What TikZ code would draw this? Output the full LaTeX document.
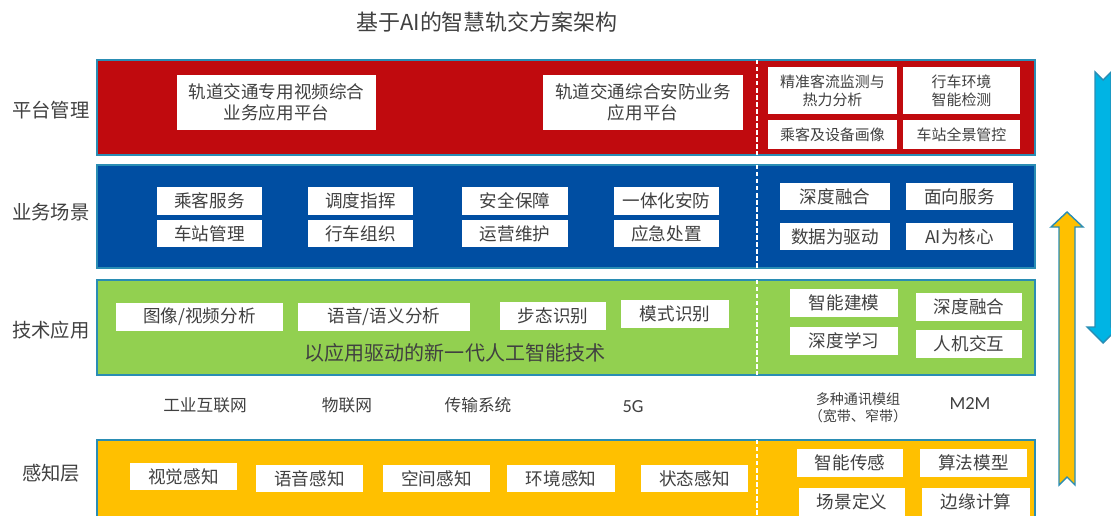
\documentclass[tikz,border=0pt]{standalone}
\usepackage{fontspec}
\newfontfamily\cjk{Noto Sans CJK SC}
\newfontfamily\latin{Carlito}
\usetikzlibrary{calc, positioning}

\definecolor{layerred}{HTML}{C00A0E}
\definecolor{layerblue}{HTML}{004EA2}
\definecolor{layergreen}{HTML}{92D050}
\definecolor{layeryellow}{HTML}{FFC000}
\definecolor{edgeblue}{HTML}{2A8DB4}
\definecolor{arrowcyan}{HTML}{00B4E4}
\definecolor{txtgray}{HTML}{404040}

\begin{document}
\begin{tikzpicture}[x=0.02cm, y=-0.02cm]
	\useasboundingbox (0,0) rectangle (1111,515);

	% styles for layers and boxes
	\tikzstyle{layer} = [draw=edgeblue, line width=1.1pt]
	\tikzstyle{divider} = [draw=white, line width=0.6pt, dash pattern=on 2.5pt off 1.5pt]
	\tikzstyle{cell} = [fill=white, text=txtgray, inner sep=0pt, align=center, minimum width=#1, minimum height=0.56cm, font=\cjk\fontsize{10}{12}\selectfont]
	\tikzstyle{small cell} = [cell=#1, font=\cjk\fontsize{8.5}{10.2}\selectfont]
	\tikzstyle{row label} = [text=txtgray, font=\cjk\fontsize{11}{13}\selectfont]
	\tikzstyle{net label} = [text=txtgray, align=center, font=\cjk\fontsize{9.5}{11}\selectfont]

	\node[text=txtgray, font=\cjk\fontsize{12.5}{15}\selectfont] (title) at (487,22) {基于AI的智慧轨交方案架构};

	% the four layers
	\filldraw[layer, fill=layerred] (97,60) rectangle (1035,155);
	\filldraw[layer, fill=layerblue] (97,165) rectangle (1035,268);
	\filldraw[layer, fill=layergreen] (97,280) rectangle (1035,375);
	\filldraw[layer, fill=layeryellow] (97,440) rectangle (1035,540);
	\foreach \ya/\yb in {60/155, 165/268, 280/375, 440/515}
		\draw[divider] (757,\ya) -- (757,\yb);

	\node[row label] (platform) at (51,110) {平台管理};
	\node[row label] (scene) at (51,212) {业务场景};
	\node[row label] (tech) at (51,330) {技术应用};
	\node[row label] (sense) at (51,473) {感知层};

	% platform layer
	\node[cell=3.98cm, minimum height=1.1cm] (video) at (276.5,102.5) {轨道交通专用视频综合\\业务应用平台};
	\node[cell=4cm, minimum height=1.1cm] (security) at (643,102.5) {轨道交通综合安防业务\\应用平台};
	\node[small cell=2.58cm, minimum height=0.94cm] (flow) at (832.5,90.5) {精准客流监测与\\热力分析};
	\node[small cell=2.34cm, minimum height=0.94cm] (env) at (961.5,90.5) {行车环境\\智能检测};
	\node[small cell=2.58cm, minimum height=0.58cm] (portrait) at (832.5,134.5) {乘客及设备画像};
	\node[small cell=2.34cm, minimum height=0.58cm] (station) at (961.5,134.5) {车站全景管控};

	% business layer
	\node[cell=2.1cm] (passenger) at (209.5,201) {乘客服务};
	\node[cell=2.1cm, minimum height=0.54cm] (stationmgmt) at (209.5,233.5) {车站管理};
	\node[cell=2.1cm] (dispatch) at (360.5,201) {调度指挥};
	\node[cell=2.1cm, minimum height=0.54cm] (train) at (360.5,233.5) {行车组织};
	\node[cell=2.12cm] (safety) at (515,201) {安全保障};
	\node[cell=2.12cm, minimum height=0.54cm] (ops) at (515,233.5) {运营维护};
	\node[cell=2.1cm] (integrated) at (666.5,201) {一体化安防};
	\node[cell=2.1cm, minimum height=0.54cm] (emergency) at (666.5,233.5) {应急处置};
	\node[cell=2.2cm, minimum height=0.54cm] (fusion) at (835,196.5) {深度融合};
	\node[cell=2.14cm, minimum height=0.54cm] (service) at (959.5,196.5) {面向服务};
	\node[cell=2.2cm, minimum height=0.54cm] (data) at (835,236.5) {数据为驱动};
	\node[cell=2.14cm, minimum height=0.54cm] (aicore) at (959.5,236.5) {AI为核心};

	% technology layer
	\node[cell=3.34cm] (image) at (199.5,317) {图像/视频分析};
	\node[cell=3.44cm] (speech) at (384,317) {语音/语义分析};
	\node[cell=2.12cm] (gait) at (553,316) {步态识别};
	\node[cell=2.16cm] (pattern) at (675,314) {模式识别};
	\node[text=txtgray, font=\cjk\fontsize{11.4}{13}\selectfont] (aitech) at (455,353) {以应用驱动的新一代人工智能技术};
	\node[cell=2.16cm] (modeling) at (844,303) {智能建模};
	\node[cell=2.16cm] (deeplearn) at (844,341) {深度学习};
	\node[cell=2.12cm] (deepfuse) at (969,306.5) {深度融合};
	\node[cell=2.12cm] (hci) at (969,343.5) {人机交互};

	% network row
	\node[net label] (iiot) at (205,405) {工业互联网};
	\node[net label] (iot) at (347,405) {物联网};
	\node[net label] (trans) at (478,405) {传输系统};
	\node[text=txtgray, font=\latin\fontsize{10.5}{12}\selectfont] (fiveg) at (633,407) {5G};
	\node[net label, font=\cjk\fontsize{8}{9.5}\selectfont] (modules) at (858,408) {多种通讯模组\\（宽带、窄带）};
	\node[text=txtgray, font=\latin\fontsize{10.5}{12}\selectfont] (mtom) at (970,403) {M2M};

	% perception layer
	\node[cell=2.14cm, minimum height=0.54cm] (visual) at (183.5,476.5) {视觉感知};
	\node[cell=2.14cm, minimum height=0.54cm] (voice) at (309.5,478.5) {语音感知};
	\node[cell=2.14cm, minimum height=0.54cm] (space) at (436.5,478.5) {空间感知};
	\node[cell=2.16cm, minimum height=0.54cm] (envsense) at (561,478.5) {环境感知};
	\node[cell=2.14cm, minimum height=0.54cm] (state) at (694.5,478.5) {状态感知};
	\node[cell=2.12cm] (sensor) at (850,463) {智能传感};
	\node[cell=2.14cm] (algo) at (973.5,463) {算法模型};
	\node[cell=2.12cm] (scenedef) at (852,501.5) {场景定义};
	\node[cell=2.16cm] (edge) at (976,501.5) {边缘计算};

	% flow arrows on the right
	\filldraw[fill=arrowcyan, draw=edgeblue, line width=0.8pt] (1095,72) -- (1103,80) -- (1111,72) -- (1111,327) -- (1119,327) -- (1103,343) -- (1087,327) -- (1095,327) -- cycle;
	\filldraw[fill=layeryellow, draw=edgeblue, line width=0.8pt] (1059,485) -- (1067,477) -- (1075,485) -- (1075,227) -- (1083,227) -- (1067,212) -- (1051,227) -- (1059,227) -- cycle;
\end{tikzpicture}
\end{document}
